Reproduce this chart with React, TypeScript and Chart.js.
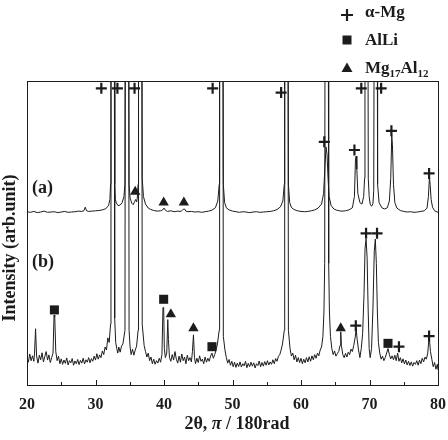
import React, { useEffect, useRef } from "react";
import { Chart, registerables } from "chart.js";

Chart.register(...registerables);

// Trace (a)
const traceAx = [
  20.0, 20.5, 21.0, 21.5, 22.0, 22.5, 23.0, 23.5, 24.0, 24.5, 25.0, 25.5, 26.0, 26.5, 27.0, 27.5, 28.0, 28.3, 28.5, 28.7,
  29.0, 29.5, 30.0, 30.5, 31.0, 31.5, 31.9, 32.1, 32.2, 32.26, 32.74, 32.8, 32.9, 33.05, 33.3, 33.6, 33.9, 34.15, 34.3, 34.36,
  34.84, 34.9, 35.05, 35.3, 35.5, 35.7, 35.85, 36.0, 36.1, 36.22, 36.28, 36.76, 36.82, 37.0, 37.3, 37.7, 38.0, 38.5, 39.0, 39.5,
  39.8, 40.0, 40.2, 40.5, 41.0, 41.5, 42.0, 42.5, 42.8, 43.0, 43.2, 43.5, 44.0, 44.5, 45.0, 45.5, 46.0, 46.5, 47.0, 47.5,
  47.85, 48.06, 48.12, 48.6, 48.66, 48.85, 49.1, 49.5, 50.0, 50.5, 51.0, 51.5, 52.0, 52.5, 53.0, 53.5, 54.0, 54.5, 55.0, 55.5,
  56.0, 56.5, 57.0, 57.35, 57.56, 57.62, 58.1, 58.16, 58.35, 58.6, 59.0, 59.5, 60.0, 60.5, 61.0, 61.5, 62.0, 62.5, 63.0, 63.3,
  63.5, 63.65, 63.8, 63.95, 64.1, 64.4, 64.8, 65.2, 65.6, 66.0, 66.5, 67.0, 67.5, 67.8, 67.95, 68.05, 68.15, 68.3, 68.6, 68.9,
  69.15, 69.28, 69.34, 69.76, 69.82, 69.95, 70.1, 70.3, 70.5, 70.62, 70.7, 71.12, 71.18, 71.4, 71.8, 72.2, 72.6, 72.9, 73.1, 73.25,
  73.35, 73.5, 73.7, 74.0, 74.5, 75.0, 75.5, 76.0, 76.5, 77.0, 77.5, 78.0, 78.4, 78.6, 78.75, 78.85, 79.0, 79.2, 79.5, 80.0,
];
const traceAy = [
  57.0, 56.8, 57.1, 56.7, 56.9, 57.2, 56.8, 56.9, 57.0, 56.7, 56.9, 57.1, 56.8, 56.9, 57.0, 57.2, 57.1, 57.3, 58.5, 57.3,
  57.1, 57.2, 57.3, 57.4, 57.6, 58.0, 59.0, 61.0, 66.0, 140, 140, 66.0, 61.0, 59.8, 59.0, 59.2, 60.0, 62.0, 66.0, 140,
  140, 66.0, 61.5, 59.8, 59.3, 60.3, 61.0, 60.2, 61.5, 66.0, 140, 140, 68.0, 62.0, 59.5, 58.2, 57.8, 57.4, 57.2, 57.3,
  57.6, 58.2, 57.5, 57.1, 57.3, 57.0, 57.2, 57.1, 57.8, 57.9, 57.2, 57.0, 57.1, 56.9, 57.0, 56.8, 57.0, 57.2, 57.5, 58.3,
  60.5, 66.0, 140, 140, 66.0, 60.0, 58.3, 57.6, 57.2, 57.0, 56.8, 57.0, 56.9, 56.7, 56.9, 57.0, 56.8, 56.9, 57.0, 57.1,
  57.3, 57.7, 58.6, 60.5, 66.0, 140, 140, 66.0, 60.0, 58.4, 57.7, 57.3, 57.1, 57.0, 57.1, 57.3, 57.6, 58.2, 59.5, 63.0,
  72.0, 78.3, 76.0, 68.0, 62.0, 59.0, 57.9, 57.5, 57.3, 57.2, 57.3, 57.6, 58.3, 62.0, 74.0, 75.3, 71.0, 63.0, 60.0, 59.5,
  62.0, 68.0, 140, 140, 68.0, 62.0, 59.5, 58.8, 59.6, 64.0, 140, 140, 66.0, 60.0, 58.3, 57.9, 58.3, 60.5, 68.0, 82.0,
  79.0, 66.0, 60.0, 58.2, 57.4, 57.1, 56.9, 57.0, 56.8, 56.9, 57.1, 57.3, 58.2, 62.0, 68.4, 66.0, 61.0, 58.5, 57.3, 56.8,
];

// Trace (b)
const traceBx = [
  20.0, 20.2, 20.4, 20.6, 20.8, 21.0, 21.1, 21.25, 21.4, 21.6, 21.8, 22.0, 22.2, 22.4, 22.6, 22.8, 23.0, 23.2, 23.4, 23.6,
  23.8, 23.95, 24.05, 24.2, 24.4, 24.6, 24.8, 25.0, 25.2, 25.4, 25.6, 25.8, 26.0, 26.2, 26.4, 26.6, 26.8, 27.0, 27.2, 27.4,
  27.6, 27.8, 28.0, 28.2, 28.4, 28.6, 28.8, 29.0, 29.2, 29.4, 29.6, 29.8, 30.0, 30.2, 30.4, 30.6, 30.8, 31.0, 31.2, 31.4,
  31.6, 31.8, 32.0, 32.2, 32.26, 32.74, 32.8, 32.95, 33.1, 33.25, 33.4, 33.6, 33.8, 34.0, 34.3, 34.36, 34.84, 34.9, 35.05, 35.2,
  35.4, 35.6, 35.8, 36.0, 36.22, 36.28, 36.76, 36.82, 37.1, 37.3, 37.5, 37.7, 37.9, 38.1, 38.3, 38.5, 38.7, 38.9, 39.1, 39.3,
  39.5, 39.7, 39.85, 39.95, 40.05, 40.2, 40.4, 40.55, 40.65, 40.8, 41.0, 41.2, 41.4, 41.6, 41.8, 42.0, 42.2, 42.4, 42.6, 42.8,
  43.0, 43.2, 43.4, 43.6, 43.8, 44.0, 44.15, 44.3, 44.45, 44.6, 44.8, 45.0, 45.2, 45.4, 45.6, 45.8, 46.0, 46.2, 46.4, 46.6,
  46.8, 47.0, 47.2, 47.4, 47.6, 47.8, 48.06, 48.12, 48.6, 48.66, 48.9, 49.1, 49.3, 49.5, 49.7, 49.9, 50.1, 50.3, 50.5, 50.7,
  50.9, 51.1, 51.3, 51.5, 51.7, 51.9, 52.1, 52.3, 52.5, 52.7, 52.9, 53.1, 53.3, 53.5, 53.7, 53.9, 54.1, 54.3, 54.5, 54.7,
  54.9, 55.1, 55.3, 55.5, 55.7, 55.9, 56.1, 56.3, 56.5, 56.7, 56.9, 57.1, 57.3, 57.56, 57.62, 58.1, 58.16, 58.4, 58.6, 58.8,
  59.0, 59.2, 59.4, 59.6, 59.8, 60.0, 60.2, 60.4, 60.6, 60.8, 61.0, 61.2, 61.4, 61.6, 61.8, 62.0, 62.2, 62.4, 62.6, 62.8,
  63.0, 63.2, 63.35, 63.46, 63.52, 63.98, 64.04, 64.15, 64.3, 64.5, 64.7, 64.9, 65.1, 65.3, 65.5, 65.7, 65.8, 65.9, 66.1, 66.3,
  66.5, 66.7, 66.9, 67.1, 67.3, 67.5, 67.7, 67.9, 68.05, 68.2, 68.4, 68.6, 68.8, 69.0, 69.2, 69.35, 69.5, 69.65, 69.8, 69.95,
  70.1, 70.3, 70.5, 70.7, 70.85, 71.0, 71.15, 71.3, 71.5, 71.7, 71.9, 72.1, 72.3, 72.5, 72.7, 72.9, 73.1, 73.3, 73.5, 73.7,
  73.9, 74.1, 74.3, 74.5, 74.7, 74.9, 75.1, 75.3, 75.5, 75.7, 75.9, 76.1, 76.3, 76.5, 76.7, 76.9, 77.1, 77.3, 77.5, 77.7,
  77.9, 78.1, 78.3, 78.5, 78.65, 78.75, 78.9, 79.1, 79.3, 79.5, 79.7, 79.9, 80.0,
];
const traceBy = [
  9.0, 7.5, 10.2, 8.0, 9.6, 7.8, 10.5, 18.5, 9.5, 7.2, 9.8, 8.3, 10.6, 7.6, 9.4, 11.0, 8.2, 9.9, 7.4, 9.0,
  10.5, 23.0, 22.5, 11.0, 8.0, 9.5, 7.0, 8.6, 6.8, 8.2, 7.1, 8.9, 6.6, 8.0, 7.3, 8.7, 6.5, 7.9, 7.0, 8.4,
  6.7, 8.1, 7.2, 8.8, 6.9, 8.3, 7.5, 9.0, 7.3, 8.7, 7.8, 9.5, 8.2, 10.3, 8.5, 9.9, 9.0, 11.2, 10.0, 12.5,
  11.5, 15.5, 14.0, 20.0, 140, 140, 22.0, 14.0, 12.0, 10.5, 12.5, 10.8, 12.8, 13.5, 18.0, 140, 140, 18.0, 12.5, 10.0,
  11.8, 9.8, 11.5, 12.8, 18.0, 140, 140, 20.0, 13.0, 11.0, 9.2, 10.5, 8.0, 9.2, 7.0, 8.5, 6.8, 8.0, 7.2, 8.8,
  7.5, 10.0, 25.5, 25.5, 12.0, 9.0, 10.5, 21.5, 15.0, 9.0, 7.8, 10.0, 8.2, 11.0, 8.5, 7.2, 9.5, 7.5, 10.2, 8.0,
  9.2, 7.0, 9.8, 8.0, 9.0, 7.6, 11.0, 16.5, 9.0, 7.0, 8.8, 7.4, 9.6, 7.8, 8.5, 7.0, 9.2, 7.5, 8.8, 7.8,
  9.5, 10.5, 8.8, 10.0, 11.5, 13.5, 18.0, 140, 140, 16.0, 11.5, 9.0, 7.2, 8.4, 6.5, 7.8, 6.0, 7.5, 5.8, 7.2,
  6.1, 7.6, 5.9, 7.0, 6.3, 7.8, 5.7, 7.1, 6.0, 7.5, 6.2, 7.3, 5.6, 7.0, 6.4, 7.9, 6.0, 7.4, 6.2, 7.7,
  6.5, 8.0, 6.6, 7.6, 6.8, 8.3, 7.0, 8.7, 7.8, 9.4, 10.0, 11.5, 13.5, 18.0, 140, 140, 18.0, 12.0, 9.5, 10.5,
  8.3, 9.8, 7.6, 9.0, 7.4, 8.8, 7.0, 8.5, 7.3, 9.0, 7.6, 9.3, 7.8, 9.6, 8.3, 10.0, 8.8, 10.5, 9.6, 11.5,
  12.5, 16.0, 24.0, 40.0, 140, 140, 40.0, 24.0, 16.0, 12.0, 10.0, 11.2, 9.5, 10.3, 11.0, 13.0, 17.5, 13.0, 10.0, 9.0,
  10.4, 9.2, 10.8, 10.0, 11.8, 11.0, 13.0, 15.5, 18.5, 15.0, 11.5, 9.0, 12.0, 17.0, 30.0, 45.0, 48.0, 42.0, 25.0, 12.0,
  9.0, 12.0, 25.0, 44.0, 48.0, 40.0, 24.0, 14.0, 10.5, 8.5, 9.5, 8.0, 9.0, 10.5, 12.0, 10.0, 8.6, 9.6, 8.3, 9.8,
  8.0, 10.5, 7.8, 9.0, 7.3, 8.6, 6.9, 8.2, 6.6, 7.8, 6.4, 7.6, 6.2, 7.4, 6.8, 8.0, 6.5, 8.2, 7.0, 8.8,
  7.6, 9.2, 8.5, 10.5, 14.5, 15.0, 11.0, 8.5, 6.0, 7.4, 5.2, 6.8, 5.0,
];

// Phase markers: alpha-Mg (+), AlLi (square), Mg17Al12 (triangle)
const mgMarkX = [30.85, 33.2, 35.7, 47.1, 57.1, 63.4, 67.8, 68.8, 71.7, 73.2, 78.7, 69.5, 71.1, 68.0, 74.3, 78.7];
const mgMarkY = [97.6, 97.6, 97.6, 97.6, 96.2, 80.0, 77.3, 97.6, 97.6, 83.6, 69.6, 49.9, 49.9, 19.5, 12.6, 16.1];
const alliMarkX = [24.0, 39.95, 47.0, 72.7];
const alliMarkY = [24.7, 28.2, 12.6, 13.7];
const mgalMarkX = [35.8, 39.95, 42.9, 41.0, 44.3, 65.8];
const mgalMarkY = [63.6, 60.0, 60.0, 23.3, 18.65, 18.65];

const xTicks = [20, 30, 40, 50, 60, 70, 80];
const xMinorTicks = [25, 35, 45, 55, 65, 75];
const legendLabels = ["α-Mg", "AlLi", "Mg17Al12"];
const curveLabels = ["(a)", "(b)"];
const curveLabelY = [64.6, 40.5];

const FONT = "'Liberation Serif', 'Times New Roman', serif";
const INK = "#1c1c1c";

function pts(xs: number[], ys: number[]) {
  return xs.map((x, i) => ({ x, y: ys[i] }));
}

const decorPlugin = {
  id: "decor",
  afterDraw(chart: any) {
    const ctx = chart.ctx;
    const a = chart.chartArea;
    const xs = chart.scales.x;
    const ys = chart.scales.y;
    ctx.save();
    // frame
    ctx.strokeStyle = INK;
    ctx.lineWidth = 1;
    ctx.strokeRect(Math.round(a.left) + 0.5, Math.round(a.top) + 0.5, Math.round(a.right - a.left), Math.round(a.bottom - a.top));
    // inward ticks
    ctx.beginPath();
    xTicks.forEach((t) => {
      const px = Math.round(xs.getPixelForValue(t)) + 0.5;
      ctx.moveTo(px, a.bottom);
      ctx.lineTo(px, a.bottom - 5);
    });
    xMinorTicks.forEach((t) => {
      const px = Math.round(xs.getPixelForValue(t)) + 0.5;
      ctx.moveTo(px, a.bottom);
      ctx.lineTo(px, a.bottom - 3);
    });
    ctx.stroke();
    // curve labels
    ctx.fillStyle = INK;
    ctx.font = `bold 18px ${FONT}`;
    ctx.textAlign = "left";
    ctx.textBaseline = "middle";
    curveLabels.forEach((l, i) => {
      ctx.fillText(l, a.left + 5, ys.getPixelForValue(curveLabelY[i]));
    });
    // y title
    ctx.save();
    ctx.translate(10, 248);
    ctx.rotate(-Math.PI / 2);
    ctx.textAlign = "center";
    ctx.textBaseline = "middle";
    ctx.font = `bold 18px ${FONT}`;
    ctx.fillText("Intensity (arb.unit)", 0, 0);
    ctx.restore();
    // x title with italic pi
    const parts: [string, string][] = [
      ["2θ, ", `bold 18px ${FONT}`],
      ["π", `italic bold 18px ${FONT}`],
      [" / 180rad", `bold 18px ${FONT}`],
    ];
    let total = 0;
    parts.forEach(([t, f]) => {
      ctx.font = f;
      total += ctx.measureText(t).width;
    });
    let cx = 237 - total / 2;
    ctx.textAlign = "left";
    ctx.textBaseline = "alphabetic";
    parts.forEach(([t, f]) => {
      ctx.font = f;
      ctx.fillText(t, cx, 429);
      cx += ctx.measureText(t).width;
    });
    // legend
    const lx = 347;
    const rows = [15, 40, 68];
    const base = [17, 45, 73];
    ctx.lineWidth = 2.2;
    ctx.strokeStyle = INK;
    ctx.beginPath();
    ctx.moveTo(lx - 6, rows[0]);
    ctx.lineTo(lx + 6, rows[0]);
    ctx.moveTo(lx, rows[0] - 6);
    ctx.lineTo(lx, rows[0] + 6);
    ctx.stroke();
    ctx.fillRect(lx - 4.5, rows[1] - 4.5, 9, 9);
    ctx.beginPath();
    ctx.moveTo(lx, rows[2] - 5.5);
    ctx.lineTo(lx + 5.5, rows[2] + 4);
    ctx.lineTo(lx - 5.5, rows[2] + 4);
    ctx.closePath();
    ctx.fill();
    ctx.textBaseline = "alphabetic";
    ctx.font = `bold 17px ${FONT}`;
    ctx.fillText(legendLabels[0], 365, base[0]);
    ctx.fillText(legendLabels[1], 365, base[1]);
    // Mg17Al12 with real subscripts
    const big = `bold 17px ${FONT}`;
    const small = `bold 11px ${FONT}`;
    const segs: [string, string, number][] = [
      ["Mg", big, 0],
      ["17", small, 4],
      ["Al", big, 0],
      ["12", small, 4],
    ];
    let sx = 365;
    segs.forEach(([t, f, dy]) => {
      ctx.font = f;
      ctx.fillText(t, sx, base[2] + dy);
      sx += ctx.measureText(t).width;
    });
    ctx.restore();
  },
};

export default function App() {
  const ref = useRef<HTMLCanvasElement | null>(null);
  useEffect(() => {
    document.body.style.margin = "0";
    const canvas = ref.current;
    if (!canvas) return;
    const markerBase = { showLine: false, clip: false as any, borderColor: INK, backgroundColor: INK };
    const chart = new Chart(canvas, {
      type: "scatter",
      data: {
        datasets: [
          { label: "a", data: pts(traceAx, traceAy), showLine: true, borderColor: INK, borderWidth: 1, pointRadius: 0, tension: 0 },
          { label: "b", data: pts(traceBx, traceBy), showLine: true, borderColor: INK, borderWidth: 1, pointRadius: 0, tension: 0 },
          { ...markerBase, label: legendLabels[0], data: pts(mgMarkX, mgMarkY), pointStyle: "cross", pointRadius: 5.5, borderWidth: 2.2 },
          { ...markerBase, label: legendLabels[1], data: pts(alliMarkX, alliMarkY), pointStyle: "rect", pointRadius: 6.4, borderWidth: 0 },
          { ...markerBase, label: legendLabels[2], data: pts(mgalMarkX, mgalMarkY), pointStyle: "triangle", pointRadius: 6, borderWidth: 0 },
        ],
      },
      options: {
        responsive: false,
        animation: false,
        devicePixelRatio: 1,
        layout: { padding: { top: 81, left: 27, right: 10, bottom: 0 } },
        plugins: { legend: { display: false }, tooltip: { enabled: false } },
        scales: {
          x: {
            type: "linear",
            min: 20,
            max: 80,
            grid: { display: false, drawTicks: false },
            border: { display: false },
            ticks: {
              stepSize: 10,
              padding: 10,
              color: INK,
              font: { family: FONT, size: 16, weight: "bold" },
            },
            afterFit(scale: any) {
              scale.height = 55;
              scale.paddingLeft = 0;
              scale.paddingRight = 0;
            },
          },
          y: { display: false, min: 0, max: 100 },
        },
      },
      plugins: [decorPlugin],
    });
    return () => chart.destroy();
  }, []);
  return <canvas ref={ref} width={448} height={440} />;
}
